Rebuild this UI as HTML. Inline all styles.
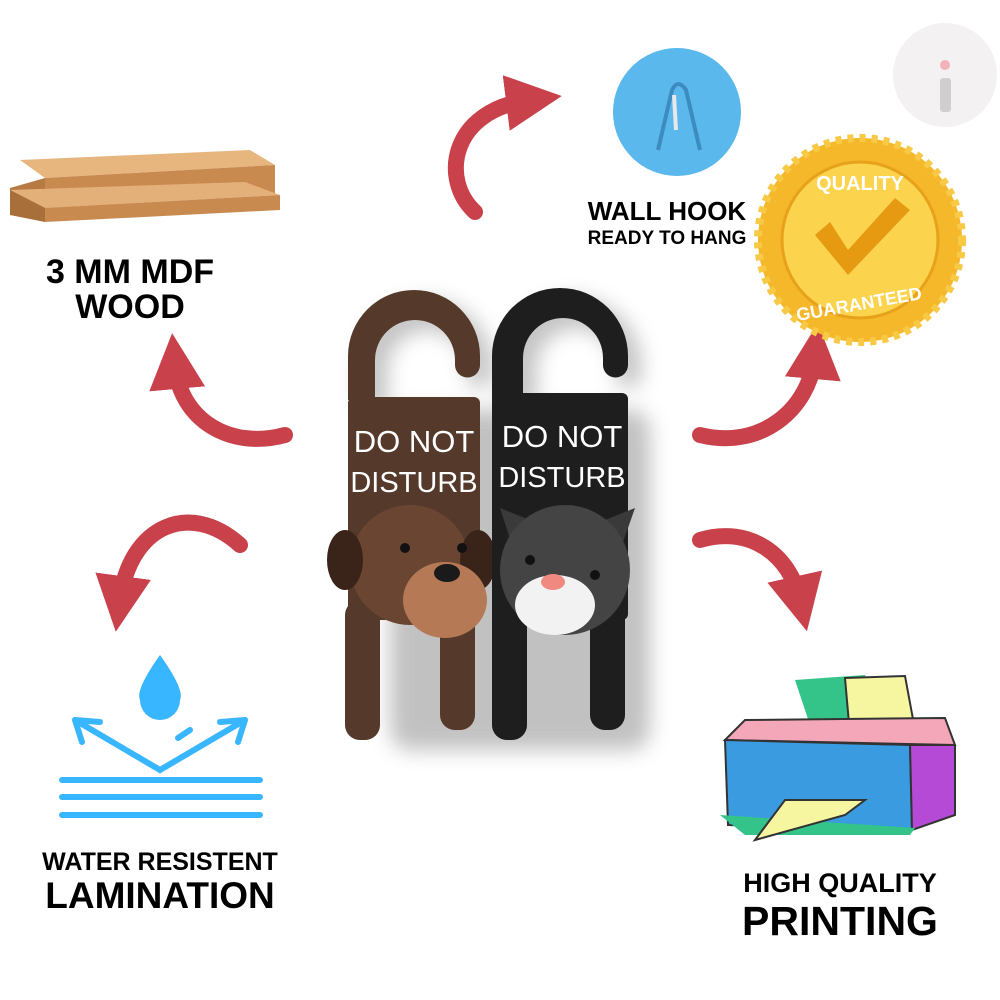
<!DOCTYPE html>
<html><head><meta charset="utf-8"><style>
html,body{margin:0;padding:0;background:#fff;}
svg{display:block}
text{font-family:"Liberation Sans",sans-serif;font-weight:bold;fill:#000}
.ht{font-family:"Liberation Sans",sans-serif;font-weight:normal;fill:#fff}
</style></head><body>
<svg width="1000" height="1000" viewBox="0 0 1000 1000" xmlns="http://www.w3.org/2000/svg">
<defs>
<filter id="sh" x="-20%" y="-20%" width="150%" height="150%"><feGaussianBlur stdDeviation="10"/></filter>
<marker id="ah" markerWidth="3.5" markerHeight="3.5" refX="1.5" refY="1.75" orient="auto"><path d="M0,0 L3.5,1.75 L0,3.5 Z" fill="#c9414a"/></marker>
</defs>
<circle cx="945" cy="75" r="52" fill="#f3f1f1"/>
<rect x="940" y="78" width="11" height="34" rx="3" fill="#cfcfcf"/>
<circle cx="945" cy="65" r="5" fill="#f2b3b8"/>
<!-- wood -->
<polygon points="20,160 250,150 275,165 45,178" fill="#e7b57e"/>
<polygon points="45,178 275,165 275,195 45,208" fill="#c98a50"/>
<polygon points="10,188 45,178 45,208 10,210" fill="#b67a43"/>
<polygon points="10,190 245,182 280,195 45,208" fill="#e4b07a"/>
<polygon points="10,190 10,215 45,222 45,208" fill="#a96f3a"/>
<polygon points="45,208 280,195 280,210 45,222" fill="#c98a50"/>
<text x="130" y="283" font-size="34" text-anchor="middle">3 MM MDF</text>
<text x="130" y="318" font-size="34" text-anchor="middle">WOOD</text>
<g fill="none" stroke="#c9414a" stroke-width="16" stroke-linecap="round" marker-end="url(#ah)">
<path d="M475,212 C440,180 450,110 530,100"/>
<path d="M285,435 C230,450 180,420 175,365"/>
<path d="M240,545 C190,500 130,525 120,600"/>
<path d="M700,435 C760,450 810,410 815,355"/>
<path d="M700,540 C750,525 790,555 800,600"/>
</g>
<circle cx="677" cy="112" r="64" fill="#5ab8ec"/>
<path d="M658,150 L672,90 Q678,78 686,90 L700,150" fill="none" stroke="#3d8cc0" stroke-width="4"/>
<path d="M674,95 L676,130" stroke="#e8e8e8" stroke-width="4"/>
<text x="667" y="220" font-size="26" text-anchor="middle">WALL HOOK</text>
<text x="667" y="244" font-size="19" text-anchor="middle">READY TO HANG</text>
<circle cx="860" cy="240" r="102" fill="#f5b82a" stroke="#f7c945" stroke-width="8" stroke-dasharray="6 6"/>
<circle cx="860" cy="240" r="78" fill="#fbd34d" stroke="#e8a11b" stroke-width="3"/>
<path d="M815,235 L848,275 L910,210 L895,198 L848,250 L830,222 Z" fill="#e59a12"/>
<text x="860" y="190" font-size="20" text-anchor="middle" style="fill:#fff">QUALITY</text>
<text x="860" y="310" font-size="18" text-anchor="middle" style="fill:#fff" transform="rotate(-10 860 310)">GUARANTEED</text>
<!-- shadows -->
<g opacity="0.45" filter="url(#sh)" fill="#777">
<path d="M360,410 L360,366 A66,66 0 0,1 492,366 L492,375 A12.5,12.5 0 0,1 467,375 L467,370 A40,40 0 0,0 387,370 L387,410 Z"/>
<path d="M505,405 L505,366 A68,68 0 0,1 641,366 L641,375 A12.5,12.5 0 0,1 616,375 L616,368 A40,40 0 0,0 536,368 L536,405 Z"/>
<rect x="390" y="410" width="260" height="340" rx="20"/>
</g>
<!-- brown -->
<path d="M348,400 L348,356 A66,66 0 0,1 480,356 L480,365 A12.5,12.5 0 0,1 455,365 L455,360 A40,40 0 0,0 375,360 L375,400 Z" fill="#553a2c"/>
<rect x="348" y="397" width="132" height="223" rx="6" fill="#553a2c"/>
<rect x="345" y="600" width="35" height="140" rx="15" fill="#553a2c"/>
<rect x="440" y="600" width="35" height="130" rx="15" fill="#553a2c"/>
<circle cx="410" cy="565" r="60" fill="#6a4632"/>
<ellipse cx="345" cy="560" rx="18" ry="30" fill="#3a2318"/>
<ellipse cx="478" cy="560" rx="18" ry="30" fill="#3a2318"/>
<ellipse cx="445" cy="600" rx="42" ry="38" fill="#b57a55"/>
<ellipse cx="447" cy="573" rx="13" ry="9" fill="#1a1a1a"/>
<circle cx="405" cy="548" r="5" fill="#111"/><circle cx="462" cy="548" r="5" fill="#111"/>
<text class="ht" x="414" y="452" font-size="31" text-anchor="middle">DO NOT</text>
<text class="ht" x="414" y="492" font-size="29" text-anchor="middle">DISTURB</text>
<!-- black -->
<path d="M492,398 L492,356 A68,68 0 0,1 628,356 L628,365 A12.5,12.5 0 0,1 603,365 L603,358 A40,40 0 0,0 523,358 L523,398 Z" fill="#1e1e1e"/>
<rect x="492" y="393" width="136" height="227" rx="6" fill="#1e1e1e"/>
<rect x="492" y="600" width="35" height="140" rx="15" fill="#1e1e1e"/>
<rect x="590" y="600" width="35" height="130" rx="15" fill="#1e1e1e"/>
<polygon points="500,508 530,520 512,545" fill="#3a3a3a"/>
<polygon points="635,508 605,520 622,545" fill="#3a3a3a"/>
<circle cx="565" cy="570" r="65" fill="#444"/>
<ellipse cx="555" cy="605" rx="40" ry="30" fill="#f2f2f2"/>
<ellipse cx="553" cy="582" rx="12" ry="8" fill="#f08a80"/>
<circle cx="530" cy="560" r="5" fill="#111"/><circle cx="595" cy="575" r="5" fill="#111"/>
<text class="ht" x="562" y="447" font-size="31" text-anchor="middle">DO NOT</text>
<text class="ht" x="562" y="487" font-size="29" text-anchor="middle">DISTURB</text>
<!-- water -->
<g stroke="#38b6ff" stroke-width="6" fill="none" stroke-linecap="round">
<path d="M160,655 Q135,690 140,700 A20,20 0 0,0 180,700 Q185,690 160,655 Z" fill="#38b6ff" stroke="none"/>
<path d="M75,720 L160,770 L245,720"/>
<path d="M75,720 L100,722 M75,720 L82,742"/>
<path d="M245,720 L220,722 M245,720 L238,742"/>
<path d="M178,738 L190,730"/>
<path d="M62,780 L260,780 M62,797 L260,797 M62,815 L260,815"/>
</g>
<text x="160" y="870" font-size="25" text-anchor="middle">WATER RESISTENT</text>
<text x="160" y="908" font-size="37" text-anchor="middle">LAMINATION</text>
<!-- printer -->
<polygon points="795,680 865,675 880,720 810,725" fill="#34c48a"/>
<polygon points="845,678 905,676 915,730 850,735" fill="#f7f6a0" stroke="#333" stroke-width="2"/>
<polygon points="725,740 745,720 945,718 955,745" fill="#f4a7b9" stroke="#333" stroke-width="2"/>
<polygon points="725,740 910,745 912,830 728,825" fill="#3a9be0" stroke="#333" stroke-width="2"/>
<polygon points="910,745 955,745 955,815 912,830" fill="#b44ad6" stroke="#333" stroke-width="2"/>
<polygon points="720,815 745,835 910,835 915,828" fill="#34c48a"/>
<polygon points="755,840 845,815 865,800 785,800" fill="#f7f6a0" stroke="#333" stroke-width="2"/>
<text x="840" y="892" font-size="27" text-anchor="middle">HIGH QUALITY</text>
<text x="840" y="935" font-size="41" text-anchor="middle">PRINTING</text>
</svg>
</body></html>
